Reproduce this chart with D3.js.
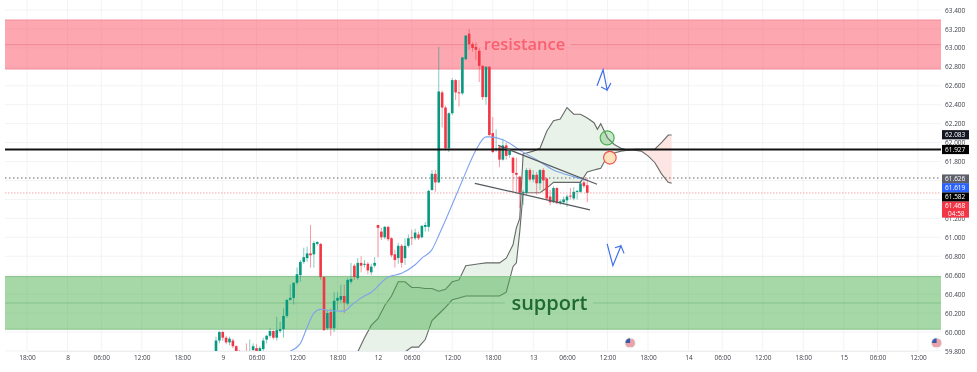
<!DOCTYPE html>
<html>
<head>
<meta charset="utf-8">
<script src="https://cdn.jsdelivr.net/npm/d3@7"></script>
<style>
  html, body { margin: 0; padding: 0; background: #fff; }
  svg { display: block; filter: blur(0.35px); }
  text { font-family: "Open Sans", "Noto Sans", sans-serif; }
</style>
</head>
<body>
<svg width="977" height="372"></svg>
<script>
// first candle sits on bar 56, one bar = 30 minutes
var firstBar = 56;
var opens = [59.77,59.91,60.00,59.94,59.89,59.91,59.85,59.79,59.73,59.78,59.73,59.81,59.83,59.79,59.82,59.92,59.96,60.01,59.94,60.01,60.03,60.17,60.34,60.36,60.52,60.60,60.74,60.78,60.83,60.82,60.93,60.93,60.58,60.04,60.21,60.04,60.33,60.34,60.38,60.30,60.53,60.70,60.57,60.73,60.71,60.72,60.63,60.70,61.13,61.06,61.00,61.11,60.99,60.82,60.78,60.91,60.78,60.91,61.00,60.99,61.03,61.00,61.11,61.11,61.50,61.67,61.58,62.53,62.37,61.94,62.31,62.66,62.53,62.52,62.88,63.15,63.04,63.01,62.97,62.81,62.48,62.80,62.10,61.92,61.95,61.82,61.97,61.87,61.84,61.68,61.64,61.47,61.47,61.71,61.61,61.66,61.57,61.71,61.62,61.43,61.37,61.52,61.36,61.37,61.39,61.44,61.41,61.48,61.48,61.58,61.55];
var highs = [59.95,60.01,60.01,59.96,59.95,59.93,59.86,59.81,59.80,59.88,59.92,59.88,59.87,59.85,59.94,59.97,60.04,60.02,60.16,60.11,60.25,60.34,60.50,60.52,60.68,60.76,60.89,60.90,61.13,60.96,60.96,60.94,60.59,60.23,60.25,60.42,60.42,60.50,60.50,60.57,60.73,60.72,60.78,60.80,60.76,60.74,60.72,60.79,61.13,61.10,61.12,61.12,61.00,60.87,60.94,60.93,60.99,61.03,61.08,61.09,61.06,61.13,61.16,61.50,61.71,61.71,63.01,62.55,62.39,62.32,62.68,62.67,62.66,62.90,63.13,63.20,63.06,63.06,63.00,62.82,62.81,62.81,62.27,62.14,61.97,62.04,62.00,61.94,61.85,61.84,61.65,61.50,61.73,61.73,61.71,61.69,61.72,61.73,61.63,61.50,61.54,61.53,61.40,61.43,61.45,61.52,61.53,61.50,61.60,61.63,61.63];
var lows = [59.75,59.88,59.91,59.87,59.86,59.83,59.75,59.71,59.69,59.70,59.70,59.79,59.77,59.77,59.80,59.88,59.94,59.92,59.91,59.99,59.94,60.15,60.33,60.29,60.50,60.53,60.72,60.74,60.68,60.68,60.91,60.55,60.01,60.02,59.96,60.00,60.23,60.31,60.20,60.28,60.51,60.55,60.55,60.63,60.68,60.61,60.60,60.68,60.79,60.97,60.98,60.96,60.79,60.68,60.72,60.68,60.71,60.89,60.92,60.97,60.97,60.99,61.06,61.06,61.49,61.48,61.57,62.16,61.92,61.90,62.29,62.45,62.38,62.50,62.87,62.98,62.96,62.87,62.64,62.45,62.40,62.07,61.89,61.90,61.74,61.81,61.82,61.84,61.48,61.48,61.31,61.34,61.45,61.59,61.58,61.45,61.50,61.50,61.39,61.34,61.36,61.35,61.34,61.35,61.32,61.40,61.39,61.40,61.47,61.52,61.37];
var closes = [59.91,60.00,59.94,59.89,59.93,59.85,59.78,59.73,59.78,59.73,59.79,59.85,59.79,59.83,59.91,59.96,60.01,59.94,60.02,60.03,60.17,60.34,60.36,60.52,60.61,60.74,60.79,60.83,60.81,60.94,60.95,60.58,60.02,60.20,60.04,60.33,60.36,60.38,60.31,60.55,60.56,60.58,60.73,60.70,60.72,60.65,60.69,60.73,61.10,61.00,61.11,60.98,60.81,60.76,60.91,60.73,60.91,60.99,60.99,61.05,60.99,61.12,61.13,61.49,61.67,61.58,62.54,62.37,61.94,62.31,62.66,62.53,62.52,62.90,63.13,63.04,63.00,62.98,62.81,62.48,62.80,62.08,61.90,61.94,61.82,61.97,61.86,61.92,61.68,61.66,61.47,61.48,61.71,61.61,61.66,61.57,61.71,61.60,61.41,61.37,61.52,61.36,61.38,61.40,61.43,61.43,61.48,61.49,61.57,61.54,61.47];

// moving average
var maBars = [78,81,83,85,87,89,94,96,99,102,107,111,115,117,120,122,124,129,133,136,137,141,144,146,151,156,160,164,166];
var maValues = [59.80,59.88,60.05,60.20,60.24,60.23,60.22,60.28,60.36,60.42,60.58,60.62,60.71,60.78,60.87,61.02,61.18,61.60,61.92,62.06,62.06,62.03,61.97,61.92,61.82,61.71,61.66,61.62,61.60];

// cloud spans
var cloudBars = [98,100,102,104,106,108,110,112,114,116,118,120,122,124,126,128,130,132,134,136,138,140,142,144,145,146,147,148,150,152,154,156,158,160,162,164,166,168,169,170,172,174,176,178,180,182,184,186,188,190,191];
var spanA = [59.79,59.94,60.07,60.14,60.28,60.38,60.53,60.53,60.47,60.47,60.46,60.46,60.43,60.45,60.53,60.55,60.70,60.71,60.72,60.73,60.73,60.73,60.78,60.92,61.10,61.20,61.88,61.89,61.91,61.94,62.12,62.23,62.25,62.37,62.30,62.30,62.26,62.21,62.14,62.20,62.05,61.98,61.94,61.92,61.92,61.91,61.86,61.79,61.67,61.58,61.57];
var spanB = [59.55,59.55,59.58,59.60,59.62,59.65,59.72,59.79,59.84,59.84,59.92,60.12,60.19,60.26,60.34,60.36,60.38,60.38,60.38,60.38,60.38,60.38,60.42,60.69,60.73,61.06,61.47,61.47,61.47,61.47,61.52,61.58,61.58,61.58,61.58,61.58,61.69,61.71,61.72,61.73,61.86,61.89,61.91,61.92,61.93,61.93,61.93,61.93,62.00,62.08,62.08];
var crossBar = 178;

var priceTicks = [59.8,60,60.2,60.4,60.6,60.8,61,61.2,61.4,61.6,61.8,62,62.2,62.4,62.6,62.8,63,63.2,63.4];
var hiddenTicks = [61.4,61.6]; // sit under the price tags
var timeBars = [0,12,22,34,46,58,68,80,92,104,114,126,138,150,160,172,184,196,206,218,230,242,252,264];
var timeLabels = ["18:00","8","06:00","12:00","18:00","9","06:00","12:00","18:00","12","06:00","12:00","18:00","13","06:00","12:00","18:00","14","06:00","12:00","18:00","15","06:00","12:00"];

var zoneNames = ["resistance","support"];
var zoneTops = [63.294,60.585];
var zoneBottoms = [62.777,60.03];
var zoneMids = [63.035,60.306];
var zoneLabelBars = [[133.6,161],[141.6,167.7]];
var zoneTextBars = [147.4,154.8];

var levelBlack = 61.927, levelLast = 61.626, levelBid = 61.468;

var upperTrend = [[139.6,61.97],[168.9,61.56]];
var lowerTrend = [[132.7,61.57],[166.8,61.29]];
var arrowDown = [[[168.9,62.60],[170.7,62.77],[171.9,62.555],[173,62.63]],[[170.1,62.587],[171.9,62.555]]];
var arrowUp = [[[171.9,60.93],[173.6,60.70],[176,60.91],[176.9,60.83]],[[174.2,60.89],[176,60.91]]];
var flagBars = [178.7,269.5];

var axisTags = [
  {text: "62.083", price: 62.083, bg: "#131722"},
  {text: "61.927", price: 61.927, bg: "#000000"},
  {text: "61.626", price: 61.615, bg: "#5d606b"},
  {text: "61.619", price: 61.522, bg: "#2962ff"},
  {text: "61.582", price: 61.425, bg: "#000000"}
];

var svg = d3.select("svg"),
    left = 5, right = 941, bottom = 351;

var x = d3.scaleLinear().domain([0, 264]).range([27, 918]),
    y = d3.scaleLinear().domain([63.4, 60]).range([10, 332]);

var defs = svg.append("defs");
defs.append("clipPath").attr("id", "plot")
  .append("rect").attr("x", left).attr("y", 0).attr("width", right - left).attr("height", bottom);
defs.append("clipPath").attr("id", "flag")
  .append("circle").attr("r", 5);

// grid
svg.append("g").selectAll("line").data(priceTicks).enter().append("line")
  .attr("x1", left).attr("x2", right)
  .attr("y1", function(d) { return y(d); }).attr("y2", function(d) { return y(d); })
  .attr("stroke", "#f2f3f5").attr("stroke-width", 1);
svg.append("g").selectAll("line").data(timeBars).enter().append("line")
  .attr("x1", function(d) { return x(d); }).attr("x2", function(d) { return x(d); })
  .attr("y1", 0).attr("y2", bottom)
  .attr("stroke", "#f2f3f5").attr("stroke-width", 1);

var g = svg.append("g").attr("clip-path", "url(#plot)");

// cloud
var cloud = cloudBars.map(function(b, i) { return {bar: b, a: spanA[i], b: spanB[i]}; });
var cloudArea = d3.area()
  .x(function(d) { return x(d.bar); })
  .y0(function(d) { return y(d.a); })
  .y1(function(d) { return y(d.b); });
g.append("path").datum(cloud.filter(function(d) { return d.bar <= crossBar; }))
  .attr("d", cloudArea).attr("fill", "#e8f2e8");
g.append("path").datum(cloud.filter(function(d) { return d.bar >= crossBar; }))
  .attr("d", cloudArea).attr("fill", "#fde5e3");

var spanLine = d3.line().x(function(d) { return x(d.bar); });
["a", "b"].forEach(function(k) {
  g.append("path").datum(cloud)
    .attr("d", spanLine.y(function(d) { return y(d[k]); }))
    .attr("fill", "none").attr("stroke", "#666a66").attr("stroke-width", 1.1);
});

// zones
var zoneFill = ["rgba(251,80,100,0.5)", "rgba(76,175,80,0.5)"];
var zoneEdge = ["#f28c98", "#86c389"];
var zoneText = ["#f8616f", "#1f6b2f"];
var zoneSize = [16.5, 20];
zoneNames.forEach(function(name, i) {
  g.append("rect")
    .attr("x", left).attr("width", right - left)
    .attr("y", y(zoneTops[i])).attr("height", y(zoneBottoms[i]) - y(zoneTops[i]))
    .attr("fill", zoneFill[i]);
  [zoneTops[i], zoneBottoms[i]].forEach(function(p) {
    g.append("line").attr("x1", left).attr("x2", right)
      .attr("y1", y(p)).attr("y2", y(p))
      .attr("stroke", zoneEdge[i]).attr("stroke-width", 1);
  });
  // mid line stops either side of the label
  [[left, x(zoneLabelBars[i][0])], [x(zoneLabelBars[i][1]), right]].forEach(function(s) {
    g.append("line").attr("x1", s[0]).attr("x2", s[1])
      .attr("y1", y(zoneMids[i])).attr("y2", y(zoneMids[i]))
      .attr("stroke", zoneEdge[i]).attr("stroke-width", 1.2);
  });
});

// levels
g.append("line").attr("x1", left).attr("x2", right)
  .attr("y1", y(levelLast)).attr("y2", y(levelLast))
  .attr("stroke", "#666").attr("stroke-width", 1.2).attr("stroke-dasharray", "1.5 2.5");
g.append("line").attr("x1", left).attr("x2", right)
  .attr("y1", y(levelBid)).attr("y2", y(levelBid))
  .attr("stroke", "#f7a6ad").attr("stroke-width", 1).attr("stroke-dasharray", "1.5 1.5");

// candles
var candles = opens.map(function(o, i) {
  return {bar: firstBar + i, o: o, h: highs[i], l: lows[i], c: closes[i]};
});
function candleColor(d) { return d.c >= d.o ? "#089981" : "#f23645"; }
g.append("g").selectAll("line").data(candles).enter().append("line")
  .attr("x1", function(d) { return x(d.bar); }).attr("x2", function(d) { return x(d.bar); })
  .attr("y1", function(d) { return y(d.h); }).attr("y2", function(d) { return y(d.l); })
  .attr("stroke", candleColor).attr("stroke-width", 1).attr("stroke-opacity", 0.5);
g.append("g").selectAll("rect").data(candles).enter().append("rect")
  .attr("x", function(d) { return x(d.bar) - 1.3; })
  .attr("width", 2.6)
  .attr("y", function(d) { return y(Math.max(d.o, d.c)); })
  .attr("height", function(d) { return Math.max(1, Math.abs(y(d.o) - y(d.c))); })
  .attr("fill", candleColor);

// moving average
g.append("path").datum(maBars.map(function(b, i) { return [b, maValues[i]]; }))
  .attr("d", d3.line().x(function(d) { return x(d[0]); }).y(function(d) { return y(d[1]); }).curve(d3.curveMonotoneX))
  .attr("fill", "none").attr("stroke", "#7fa2ee").attr("stroke-width", 1.1);

g.append("line").attr("x1", left).attr("x2", right)
  .attr("y1", y(levelBlack)).attr("y2", y(levelBlack))
  .attr("stroke", "#111").attr("stroke-width", 1.8);

// trend lines
var pointLine = d3.line().x(function(d) { return x(d[0]); }).y(function(d) { return y(d[1]); });
[upperTrend, lowerTrend].forEach(function(t) {
  g.append("path").attr("d", pointLine(t)).attr("fill", "none")
    .attr("stroke", "#555a5e").attr("stroke-width", 1.2);
});

// hand drawn arrows
[arrowDown, arrowUp].forEach(function(a) {
  a.forEach(function(p) {
    g.append("path").attr("d", pointLine(p)).attr("fill", "none")
      .attr("stroke", "#3f6fe8").attr("stroke-width", 1.2);
  });
});

// signal circles
g.append("circle").attr("cx", x(171.9)).attr("cy", y(62.05)).attr("r", 7)
  .attr("fill", "rgba(76,175,80,0.3)").attr("stroke", "#4caf50").attr("stroke-width", 1.2);
g.append("circle").attr("cx", x(172.7)).attr("cy", y(61.84)).attr("r", 6.3)
  .attr("fill", "#fde3bd").attr("stroke", "#ef5350").attr("stroke-width", 1.2);

// zone labels
zoneNames.forEach(function(name, i) {
  g.append("text").attr("x", x(zoneTextBars[i])).attr("y", y(zoneMids[i])).attr("dy", "0.35em")
    .attr("text-anchor", "middle").attr("font-size", zoneSize[i]).attr("font-weight", 600)
    .attr("fill", zoneText[i]).text(name);
});

// flags
flagBars.forEach(function(b) {
  var f = svg.append("g").attr("transform", "translate(" + x(b) + ",343)");
  var inner = f.append("g").attr("clip-path", "url(#flag)");
  inner.append("circle").attr("r", 5).attr("fill", "#f7f7f7");
  [-3, -1, 1, 3].forEach(function(o) {
    inner.append("rect").attr("x", -5).attr("y", o - 0.5).attr("width", 10).attr("height", 1).attr("fill", "#e0505c");
  });
  inner.append("rect").attr("x", -5).attr("y", -5).attr("width", 5).attr("height", 5).attr("fill", "#3a5ca8");
  f.append("circle").attr("r", 5).attr("fill", "none").attr("stroke", "#d8d8d8").attr("stroke-width", 0.6);
});

// axes
var yAxis = svg.append("g").attr("transform", "translate(" + (right + 4) + ",0)")
  .call(d3.axisRight(y).tickValues(priceTicks.filter(function(d) { return hiddenTicks.indexOf(d) < 0; }))
    .tickSize(0).tickPadding(0).tickFormat(d3.format(".3f")));
yAxis.select(".domain").remove();
yAxis.selectAll("text").attr("font-size", 6.5).attr("fill", "#3c3f47")
  .style("font-family", '"Open Sans", sans-serif');

var xAxis = svg.append("g").attr("transform", "translate(0," + bottom + ")")
  .call(d3.axisBottom(x).tickValues(timeBars).tickSize(0).tickPadding(4)
    .tickFormat(function(d) { return timeLabels[timeBars.indexOf(d)]; }));
xAxis.select(".domain").attr("stroke", "#eceef1");
xAxis.selectAll("text").attr("font-size", 6.5).attr("fill", "#3c3f47")
  .style("font-family", '"Open Sans", sans-serif');

// price tags on the axis
axisTags.forEach(function(t) {
  var cy = y(t.price);
  svg.append("rect").attr("x", right + 1).attr("y", cy - 4.6).attr("width", 27).attr("height", 9.2).attr("fill", t.bg);
  svg.append("text").attr("x", right + 4).attr("y", cy).attr("dy", "0.35em")
    .attr("font-size", 6.5).attr("fill", "#fff").text(t.text);
});
var bidY = y(61.292);
svg.append("rect").attr("x", right + 1).attr("y", bidY - 8).attr("width", 27).attr("height", 16).attr("fill", "#f23645");
svg.append("text").attr("x", right + 4).attr("y", bidY - 4).attr("dy", "0.35em")
  .attr("font-size", 6.5).attr("fill", "#fff").text("61.468");
svg.append("text").attr("x", right + 7).attr("y", bidY + 4).attr("dy", "0.35em")
  .attr("font-size", 6.5).attr("fill", "#fff").text("04:58");
</script>
</body>
</html>
